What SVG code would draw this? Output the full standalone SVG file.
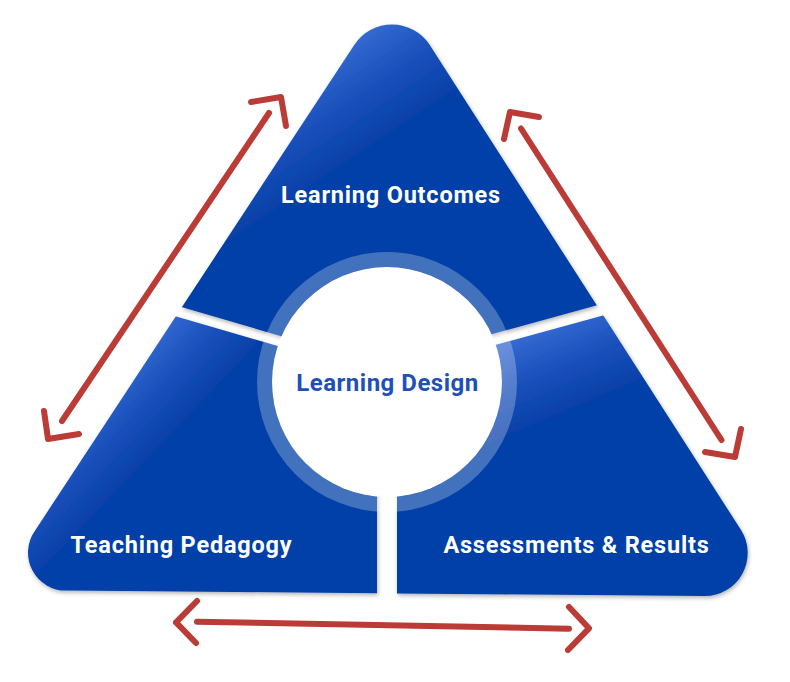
<svg xmlns="http://www.w3.org/2000/svg" width="790" height="682" viewBox="0 0 790 682">
<style>
.lbl{font-family:Roboto,"Liberation Sans",sans-serif;font-weight:700;font-size:23.5px;letter-spacing:0.8px;fill:#ffffff;text-anchor:middle}
.ctr{font-family:Roboto,"Liberation Sans",sans-serif;font-weight:700;font-size:24px;letter-spacing:0.5px;fill:#1f50b9;text-anchor:middle}
.arr{fill:none;stroke:#bb3b36;stroke-width:6;stroke-linecap:round;stroke-linejoin:round}
</style>
<defs>
<path id="tri" d="M354.4,44.7 A45,45 0 0 1 429.8,45.1 L740.9,529.8 A43,43 0 0 1 704.7,596 L66.7,590.6 A38,38 0 0 1 34.8,530.9 Z"/>
<clipPath id="cTop"><polygon points="-100,-100 900,-100 900,222 387,363 387,367 -100,225"/></clipPath>
<clipPath id="cLeft"><polygon points="-100,236 377,375 377,800 -100,800"/></clipPath>
<clipPath id="cRight"><polygon points="397,372 900,234 900,800 397,800"/></clipPath>
<linearGradient id="gTop" gradientUnits="userSpaceOnUse" x1="350" y1="30" x2="410" y2="120">
<stop offset="0" stop-color="#3a6fd6"/><stop offset="0.5" stop-color="#1c52bd"/><stop offset="1" stop-color="#0640a8"/></linearGradient>
<linearGradient id="gLeft" gradientUnits="userSpaceOnUse" x1="162" y1="312" x2="228" y2="375">
<stop offset="0" stop-color="#3a6fd6"/><stop offset="0.5" stop-color="#1c52bd"/><stop offset="1" stop-color="#0640a8"/></linearGradient>
<linearGradient id="gRight" gradientUnits="userSpaceOnUse" x1="508" y1="333" x2="545" y2="420">
<stop offset="0" stop-color="#3a6fd6"/><stop offset="0.5" stop-color="#1c52bd"/><stop offset="1" stop-color="#0640a8"/></linearGradient>
<filter id="sh" x="-10%" y="-10%" width="120%" height="120%">
<feDropShadow dx="1" dy="2" stdDeviation="2" flood-color="#000" flood-opacity="0.3"/>
</filter>
</defs>
<rect width="790" height="682" fill="#ffffff"/>
<g id="learning-outcomes" filter="url(#sh)">
<use href="#tri" fill="url(#gTop)" clip-path="url(#cTop)"/>
</g>
<g id="teaching-pedagogy" filter="url(#sh)">
<use href="#tri" fill="url(#gLeft)" clip-path="url(#cLeft)"/>
</g>
<g id="assessments-results" filter="url(#sh)">
<use href="#tri" fill="url(#gRight)" clip-path="url(#cRight)"/>
</g>
<g id="learning-design">
<circle cx="387" cy="382" r="122.5" fill="none" stroke="#ffffff" stroke-opacity="0.26" stroke-width="15"/>
<circle cx="387" cy="382" r="115" fill="#ffffff"/>
<text class="ctr" x="387.5" y="390.5">Learning Design</text>
</g>
<text class="lbl" x="391" y="202.5">Learning Outcomes</text>
<text class="lbl" x="181.5" y="552.5">Teaching Pedagogy</text>
<text class="lbl" x="576.5" y="553">Assessments &amp; Results</text>
<g id="connectors">
<polyline class="arr" points="251,102 281,97 286,126"/>
<line class="arr" x1="269" y1="113" x2="62" y2="421"/>
<polyline class="arr" points="44,411 48,439 79,434"/>
<polyline class="arr" points="504,139 510,112 539,117"/>
<line class="arr" x1="521" y1="128.5" x2="721.5" y2="440"/>
<polyline class="arr" points="741,429 735,457 705,452"/>
<polyline class="arr" points="197,601 176,622.3 196,643"/>
<line class="arr" x1="197" y1="621.7" x2="569" y2="628.7"/>
<polyline class="arr" points="569,607 589,628.3 568,650"/>
</g>
</svg>
